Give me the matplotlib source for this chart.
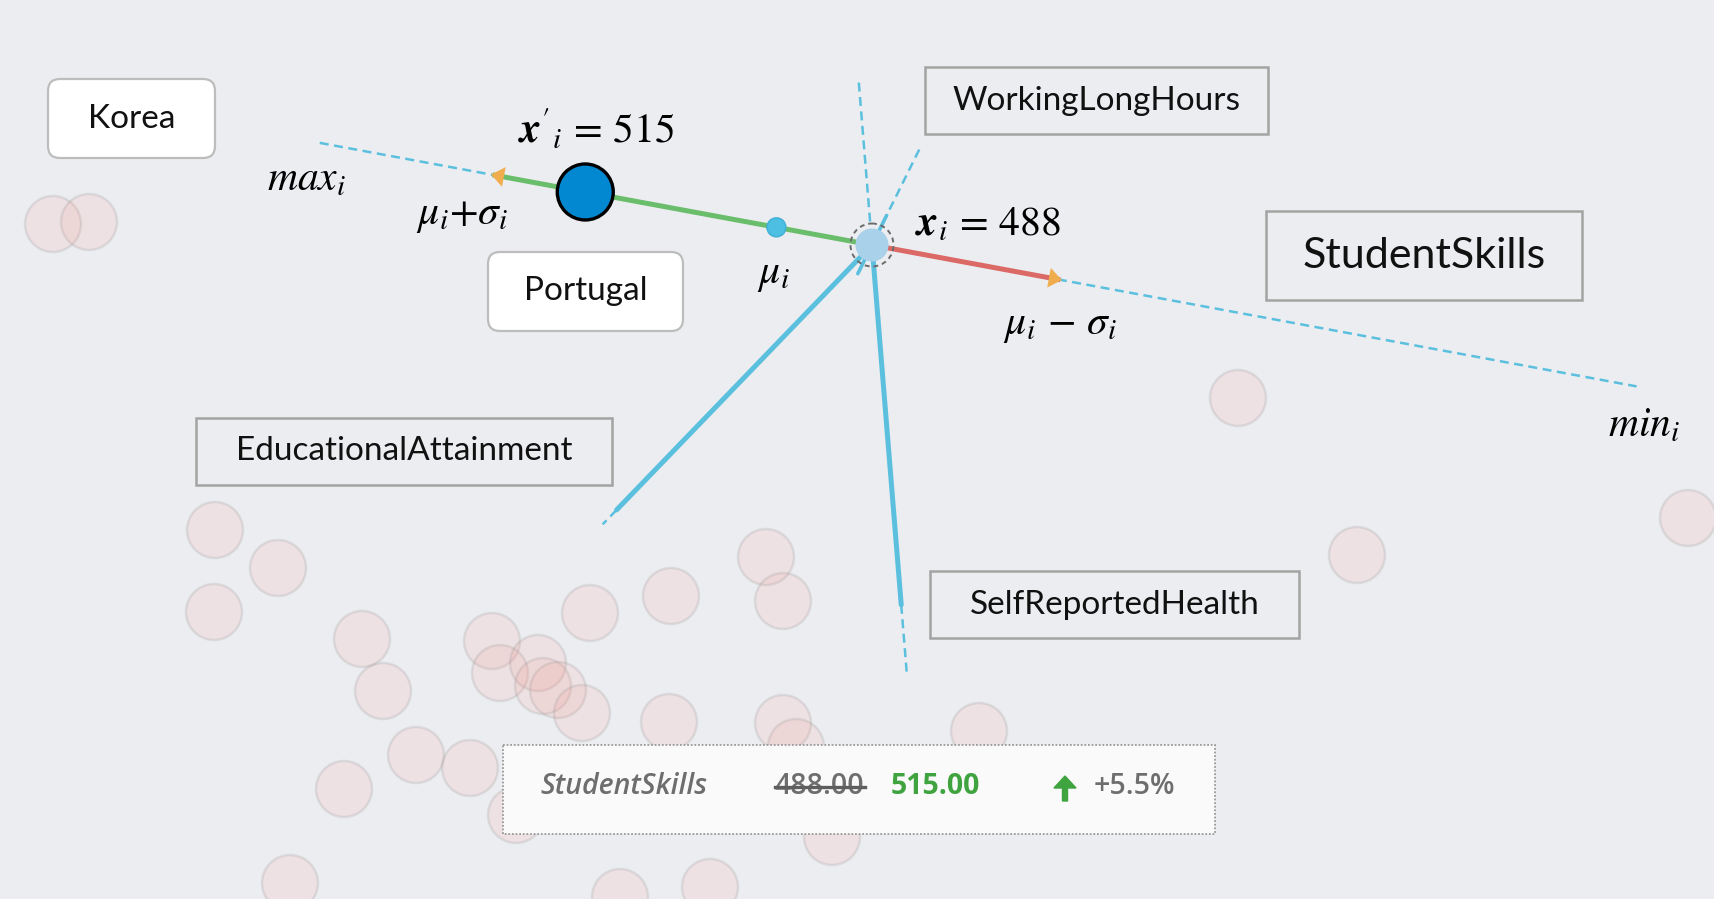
import numpy as np
import matplotlib
matplotlib.use('Agg')
import matplotlib.pyplot as plt
from matplotlib.patches import Circle, Polygon, FancyBboxPatch, Rectangle, FancyArrow

plt.rcParams['mathtext.fontset'] = 'stix'

#%% data
axis_names = ['StudentSkills', 'WorkingLongHours', 'EducationalAttainment', 'SelfReportedHealth']
countries = ['Korea', 'Portugal']
x_old = 488        # x_i
x_new = 515        # x'_i
mu = 497
sigma = 26.5
v_min = 416
v_max = 540

# other countries, projected positions (pixels)
others_x = [53, 89, 1238, 1688, 1357, 979, 215, 278, 214, 362, 383, 492, 500, 538, 543, 558,
            582, 590, 671, 766, 783, 669, 783, 796, 832, 416, 470, 344, 516, 290, 620, 710]
others_y = [224, 222, 398, 518, 555, 731, 530, 568, 612, 639, 691, 641, 673, 663, 686, 690,
            713, 613, 596, 557, 601, 722, 723, 747, 837, 755, 768, 789, 815, 883, 897, 887]

#%% layout
W, H = 1715, 899
bg = '#ecedf1'
blue = '#5bc0de'
center = np.array([872.0, 245.0])
u = np.array([-557.0, -103.0])
u = u / np.linalg.norm(u)
ppu = 10.8   # pixels per unit along the StudentSkills axis


def pos(v):
    return center + (v - x_old) * ppu * u


fig = plt.figure(figsize=(W / 100, H / 100), dpi=100)
fig.patch.set_facecolor(bg)
ax = fig.add_axes([0, 0, 1, 1])
ax.set_xlim(0, W)
ax.set_ylim(H, 0)
ax.axis('off')
ax.set_facecolor(bg)

# background countries
for cx, cy in zip(others_x, others_y):
    ax.add_patch(Circle((cx, cy), 28, facecolor=(0.96, 0.55, 0.50, 0.12),
                        edgecolor=(0.6, 0.6, 0.6, 0.22), lw=1.8, zorder=1))

# label boxes
rect_labels = [
    ('WorkingLongHours', (925, 67, 1268, 134), 24),
    ('StudentSkills', (1266, 211, 1582, 300), 31),
    ('EducationalAttainment', (196, 418, 612, 485), 24),
    ('SelfReportedHealth', (930, 571, 1299, 638), 24),
]
for name, (x0, y0, x1, y1), fs in rect_labels:
    ax.add_patch(Rectangle((x0, y0), x1 - x0, y1 - y0, facecolor='none',
                           edgecolor='#a3a3a3', lw=1.8, zorder=2))
    ax.text((x0 + x1) / 2, (y0 + y1) / 2, name, ha='center', va='center',
            fontsize=fs, family='Lato', color='#111111', zorder=2)

round_labels = [('Korea', (48, 79, 215, 158)), ('Portugal', (488, 252, 683, 331))]
for name, (x0, y0, x1, y1) in round_labels:
    ax.add_patch(FancyBboxPatch((x0, y0), x1 - x0, y1 - y0,
                                boxstyle='round,pad=0,rounding_size=12',
                                facecolor='white', edgecolor='#bdbdbd', lw=1.6, zorder=2))
    ax.text((x0 + x1) / 2, (y0 + y1) / 2, name, ha='center', va='center',
            fontsize=24, family='Lato', color='#111111', zorder=2)

# other axes: direction, dashed and solid parts as distances from center
other_axes = [
    ((48, -97), [(25, 108)], [(-32, 33)], 2.6),       # WorkingLongHours
    ((-269, 279), [(368, 388)], [(0, 368)], 3.6),     # EducationalAttainment
    ((35, 431), [(-163, -22), (361, 432)], [(0, 361)], 3.6),  # SelfReportedHealth
]
for d, dashed, solid, lw in other_axes:
    d = np.array(d, float)
    d = d / np.linalg.norm(d)
    for a, b in dashed:
        p, q = center + a * d, center + b * d
        ax.plot([p[0], q[0]], [p[1], q[1]], color=blue, lw=1.8, dashes=(3.6, 2.2), zorder=3)
    for a, b in solid:
        p, q = center + a * d, center + b * d
        ax.plot([p[0], q[0]], [p[1], q[1]], color=blue, lw=lw, solid_capstyle='round', zorder=3)

# StudentSkills axis
p_max, p_min = pos(v_max), pos(v_min)
p_hi, p_lo = pos(mu + sigma), pos(mu - sigma)
p_mu, p_new = pos(mu), pos(x_new)
ax.plot([p_max[0], p_hi[0]], [p_max[1], p_hi[1]], color=blue, lw=1.8, dashes=(3.6, 2.2), zorder=3)
ax.plot([p_lo[0], p_min[0]], [p_lo[1], p_min[1]], color=blue, lw=1.8, dashes=(3.6, 2.2), zorder=3)
ax.plot([p_hi[0], center[0]], [p_hi[1], center[1]], color='#5cb85c', lw=3.6, alpha=0.9, zorder=3)
ax.plot([center[0], p_lo[0]], [center[1], p_lo[1]], color='#d9534f', lw=3.6, alpha=0.85, zorder=3)

# orange arrow heads
for p, d in [(p_hi, u), (p_lo, -u)]:
    n = np.array([-d[1], d[0]])
    tip = p + 4 * d
    base = p - 9 * d
    ax.add_patch(Polygon([tip, base + 10 * n, base - 10 * n], closed=True,
                         facecolor='#f0ad4e', edgecolor='none', zorder=4))

# points
ax.add_patch(Circle(p_mu, 9.5, facecolor='#4dbfe2', edgecolor='#3fb0d6', lw=1, zorder=5))
ax.add_patch(Circle(center, 16.5, facecolor='#a9d1e9', edgecolor='none', zorder=5))
ax.add_patch(Circle(center, 21.5, facecolor='none', edgecolor='#6b6b6b', lw=1.4,
                    linestyle=(0, (2.5, 2)), zorder=5))
ax.add_patch(Circle(p_new, 28, facecolor='#0288d1', edgecolor='black', lw=2.4, zorder=5))

# math labels
mfs = 30
ax.text(p_max[0] - 13, p_max[1] + 35, r'$max_i$', ha='center', va='center', fontsize=mfs, zorder=5)
ax.text(p_hi[0] - 33, p_hi[1] + 39, r'$\mu_i{+}\sigma_i$', ha='center', va='center', fontsize=mfs, zorder=5)
ax.text(p_new[0] + 11, p_new[1] - 62, r"$\boldsymbol{x}'_i\,=\,%d$" % x_new, ha='center', va='center',
        fontsize=mfs, zorder=5)
ax.text(p_mu[0] - 3, p_mu[1] + 46, r'$\mu_i$', ha='center', va='center', fontsize=mfs, zorder=5)
ax.text(center[0] + 43, center[1] - 22, r'$\boldsymbol{x}_i\,=\,%d$' % x_old, ha='left', va='center',
        fontsize=mfs, zorder=5)
ax.text(p_lo[0] + 2, p_lo[1] + 45, r'$\mu_i\,-\,\sigma_i$', ha='center', va='center', fontsize=mfs, zorder=5)
ax.text(p_min[0] + 7, p_min[1] + 38, r'$min_i$', ha='center', va='center', fontsize=mfs, zorder=5)

# tooltip
ax.add_patch(Rectangle((503, 745), 712, 89, facecolor='#fafafa', edgecolor='#9a9a9a',
                       lw=1.3, linestyle=(0, (1, 1)), zorder=6))
ty = 786
tfs = 20.5
ax.text(540, ty, axis_names[0], ha='left', va='center', fontsize=tfs, style='italic',
        weight='semibold', family='Open Sans', color='#6e6e6e', zorder=7)
t_old = ax.text(775, ty, '%.2f' % x_old, ha='left', va='center', fontsize=tfs,
                weight='semibold', family='Open Sans', color='#6e6e6e', zorder=7)
ax.text(891, ty, '%.2f' % x_new, ha='left', va='center', fontsize=tfs, weight='bold',
        family='Open Sans', color='#3fa33f', zorder=7)
ax.add_patch(FancyArrow(1065, 801, 0, -25, width=5, head_width=22, head_length=12,
                        length_includes_head=True, color='#3fa33f', zorder=7))
change = (x_new - x_old) / x_old * 100
ax.text(1094, ty, '+%.1f%%' % change, ha='left', va='center', fontsize=tfs,
        weight='semibold', family='Open Sans', color='#6e6e6e', zorder=7)

# strike through the old value
fig.canvas.draw()
bb = t_old.get_window_extent().transformed(ax.transData.inverted())
ax.plot([bb.x0, bb.x1], [ty + 1, ty + 1], color='#5e5e5e', lw=2.4, zorder=8)

fig.savefig('out.png', dpi=100, facecolor=bg)
